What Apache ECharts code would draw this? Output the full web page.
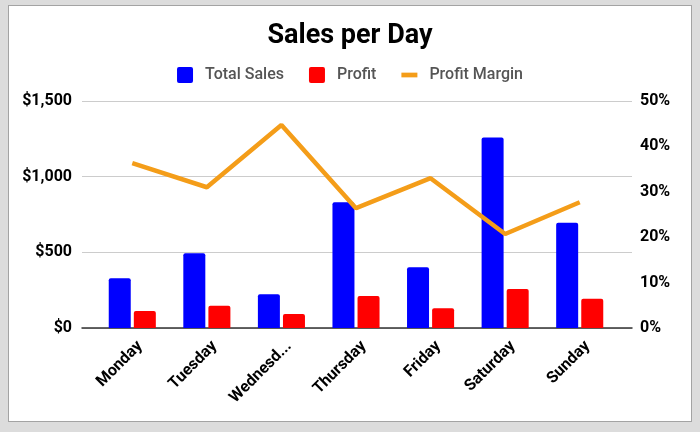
<!DOCTYPE html>
<html>
<head>
<meta charset="utf-8">
<script src="https://cdn.jsdelivr.net/npm/echarts@6/dist/echarts.min.js"></script>
<style>
	body{ margin: 0; background: #dcdcdc; }
	.panel{
		position: absolute; left: 8px; top: 5px; width: 684px; height: 417px;
		box-sizing: border-box; border: 1px solid #a3a3a3; background: #fff;
	}
	#main{ position: absolute; left: 0; top: 0; width: 700px; height: 432px; }
</style>
</head>
<body>
<div class="panel"></div>
<div id="main"></div>
<script>
	var days = ['Monday', 'Tuesday', 'Wednesday', 'Thursday', 'Friday', 'Saturday', 'Sunday']
	var totalSales = [328, 494, 223, 831, 401, 1258, 696]
	var profit = [112, 147, 93, 211, 130, 258, 194]
	var profitMargin = [36.3, 31.0, 44.7, 26.4, 33.0, 20.7, 27.7]
	var salesTicks = [0, 500, 1000, 1500]
	var marginTicks = [0, 10, 20, 30, 40, 50]

	var labelFont = { color: '#000', fontFamily: 'Roboto', fontWeight: 'bold', fontSize: 16 }

	var myChart = echarts.init(document.getElementById('main'), null, { renderer: 'canvas' })
	var option = {
		backgroundColor: 'transparent',
		animation: false,
		title: {
			text: 'Sales per Day',
			left: 'center',
			top: 18,
			textStyle: { fontFamily: 'Roboto', fontWeight: 'bold', fontSize: 27, color: '#000' }
		},
		legend: {
			top: 62,
			left: 'center',
			itemWidth: 16,
			itemHeight: 16,
			itemGap: 25,
			textStyle: { fontFamily: 'Roboto', fontSize: 16, fontWeight: 500, color: '#555', padding: [0, 0, 0, 7] },
			data: [
				{ name: 'Total Sales', icon: 'path://M2,0H14Q16,0 16,2V14Q16,16 14,16H2Q0,16 0,14V2Q0,0 2,0Z' },
				{ name: 'Profit', icon: 'path://M2,0H14Q16,0 16,2V14Q16,16 14,16H2Q0,16 0,14V2Q0,0 2,0Z' },
				{ name: 'Profit Margin', icon: 'path://M0,0H17V5H0Z' }
			]
		},
		grid: [
			// axes / gridlines
			{ left: 82, right: 68, top: 101, bottom: 104 },
			// marks
			{ left: 95, right: 83, top: 101, bottom: 104 }
		],
		xAxis: [
			{
				gridIndex: 0, type: 'category', data: days,
				axisLine: { show: true, lineStyle: { color: '#333', width: 1.5 } },
				axisTick: { show: false }, axisLabel: { show: false }, splitLine: { show: false }
			},
			{
				gridIndex: 1, type: 'category', data: days,
				axisLine: { show: false }, axisTick: { show: false },
				axisLabel: Object.assign({
					rotate: 45,
					interval: 0,
					margin: 8,
					verticalAlign: 'top',
					padding: [3, 0, 0, 0],
					formatter: function(v){
						return v.length > 8 ? v.slice(0, 7) + '...' : v
					}
				}, labelFont)
			}
		],
		yAxis: [
			{
				gridIndex: 0, type: 'value', min: 0, max: 1500, interval: 500, position: 'left',
				axisLine: { show: false }, axisTick: { show: false },
				splitLine: { lineStyle: { color: '#cccccc', width: 1 } },
				axisLabel: Object.assign({
					margin: 10,
					formatter: function(v){ return '$' + v.toLocaleString('en-US') }
				}, labelFont)
			},
			{
				gridIndex: 0, type: 'value', min: 0, max: 50, interval: 10, position: 'right',
				axisLine: { show: false }, axisTick: { show: false }, splitLine: { show: false },
				axisLabel: Object.assign({
					margin: 8,
					formatter: function(v){ return v + '%' }
				}, labelFont)
			},
			{ gridIndex: 1, type: 'value', min: 0, max: 1500, show: false, splitLine: { show: false } },
			{ gridIndex: 1, type: 'value', min: 0, max: 50, show: false, splitLine: { show: false } }
		],
		series: [
			{
				name: 'Total Sales', type: 'bar', xAxisIndex: 1, yAxisIndex: 2,
				barWidth: 22, barGap: '14%',
				itemStyle: { color: '#0000ff', borderRadius: [2, 2, 0, 0] },
				data: totalSales
			},
			{
				name: 'Profit', type: 'bar', xAxisIndex: 1, yAxisIndex: 2,
				barWidth: 22, barGap: '14%',
				itemStyle: { color: '#ff0000', borderRadius: [2, 2, 0, 0] },
				data: profit
			},
			{
				name: 'Profit Margin', type: 'line', xAxisIndex: 1, yAxisIndex: 3,
				showSymbol: false, symbol: 'none',
				lineStyle: { color: '#f49d19', width: 4.5 },
				itemStyle: { color: '#f49d19' },
				data: profitMargin
			}
		]
	}
	myChart.setOption(option, true)
</script>
</body>
</html>
